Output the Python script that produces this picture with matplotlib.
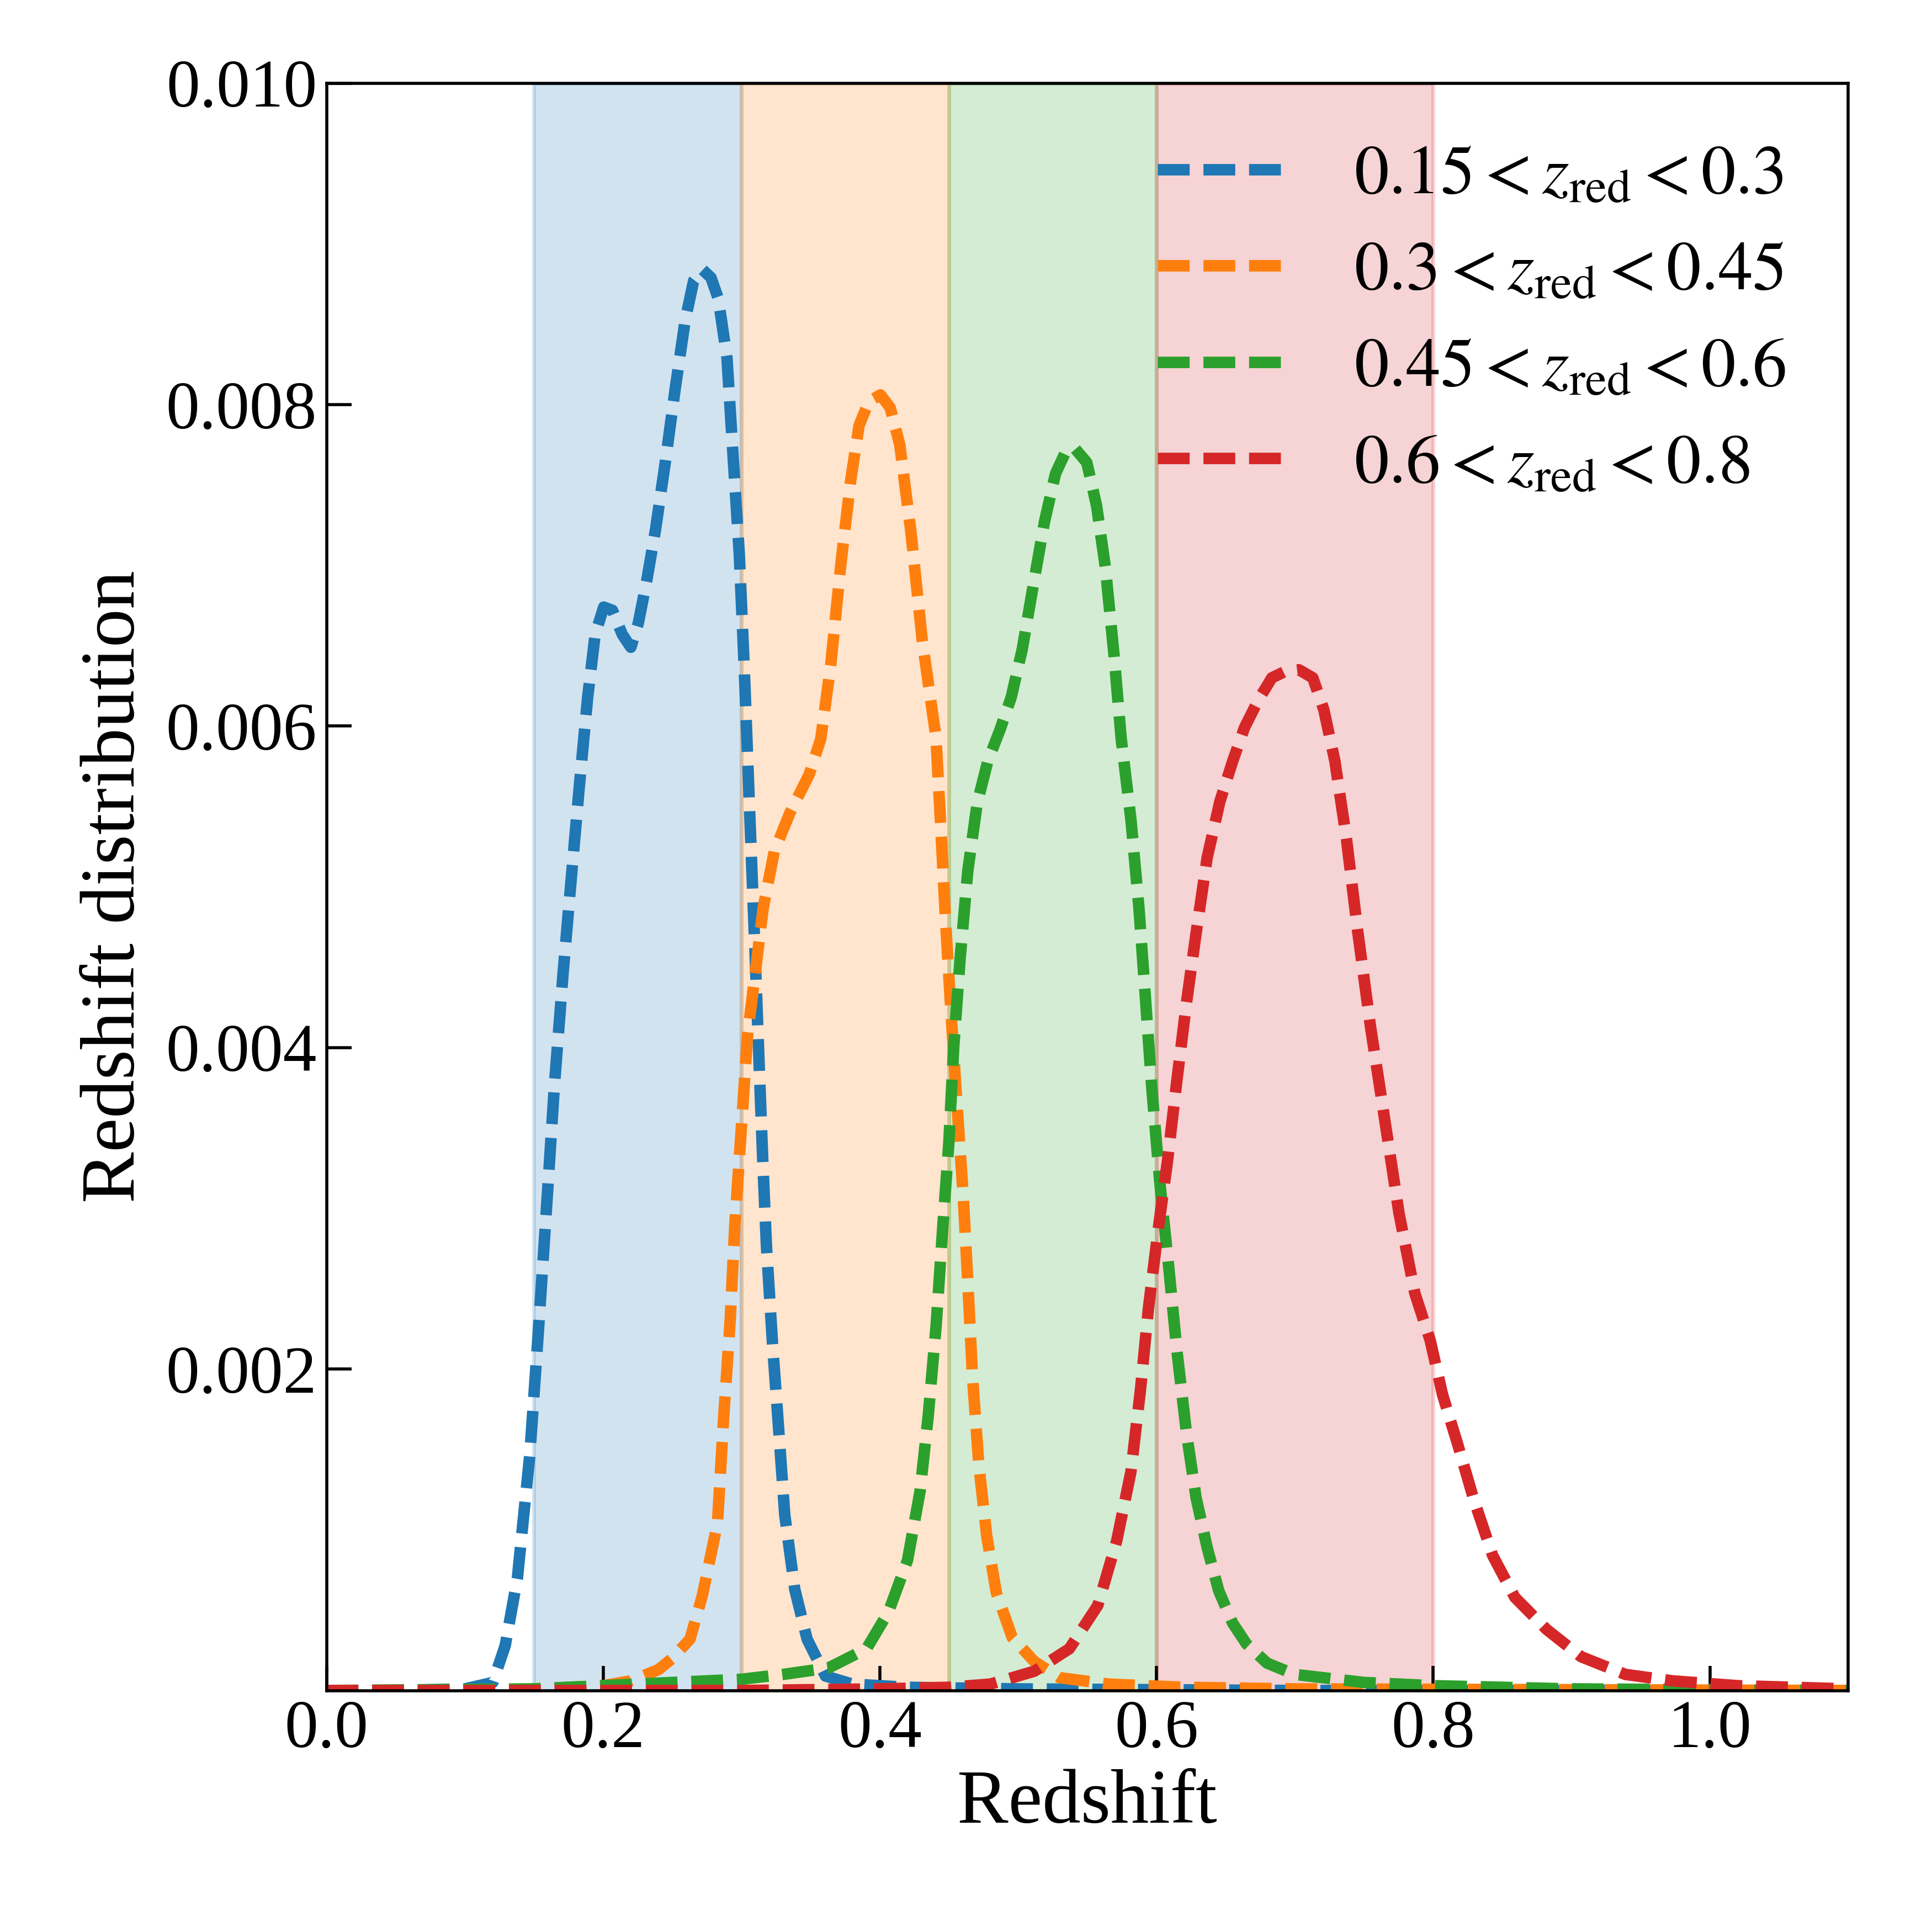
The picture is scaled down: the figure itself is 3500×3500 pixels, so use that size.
#!/usr/bin/env python3
# -*- coding: utf-8 -*-

import matplotlib
matplotlib.use('Agg')
import matplotlib.pyplot as plt

plt.rcParams['font.family'] = 'serif'
plt.rcParams['font.serif'] = ['Liberation Serif', 'DejaVu Serif']
plt.rcParams['mathtext.fontset'] = 'stix'

# redshift bins (band edges) and legend labels
bins = [(0.15, 0.3), (0.3, 0.45), (0.45, 0.6), (0.6, 0.8)]
labels = [r'$0.15 < z_{\rm red} < 0.3$',
          r'$0.3 < z_{\rm red} < 0.45$',
          r'$0.45 < z_{\rm red} < 0.6$',
          r'$0.6 < z_{\rm red} < 0.8$']
colors = ['C0', 'C1', 'C2', 'C3']

# n(z)
z_blue = [0.0, 0.05, 0.10, 0.1202, 0.1292, 0.138, 0.147, 0.1532, 0.1585, 0.1648,
          0.171, 0.1764, 0.1826, 0.1888, 0.1942, 0.2004, 0.2067, 0.2138, 0.22,
          0.2254, 0.2316, 0.2378, 0.2449, 0.2521, 0.2592, 0.2654, 0.2717, 0.2779,
          0.2832, 0.2895, 0.2939, 0.2984, 0.3019, 0.3046, 0.3073, 0.31, 0.3126,
          0.3153, 0.318, 0.3224, 0.3269, 0.3313, 0.3385, 0.3474, 0.3607, 0.38,
          0.42, 0.5, 0.7, 1.1]
n_blue = [0.0, 0.0, 0.00001, 0.00005, 0.00028, 0.0007, 0.00147, 0.00224, 0.00293,
          0.00377, 0.00446, 0.005, 0.00561, 0.00618, 0.00657, 0.00674, 0.00672,
          0.00657, 0.00649, 0.00664, 0.00691, 0.00722, 0.00764, 0.0081, 0.00852,
          0.00877, 0.00884, 0.00879, 0.00866, 0.00829, 0.00768, 0.00707, 0.00638,
          0.00576, 0.00515, 0.00454, 0.00393, 0.00331, 0.00277, 0.00216, 0.00162,
          0.00109, 0.00063, 0.00032, 0.00009, 0.00004, 0.00002, 0.00001, 0.0, 0.0]

z_orange = [0.0, 0.1, 0.15, 0.2, 0.22, 0.24, 0.25, 0.2628, 0.2717, 0.2826, 0.2872,
            0.2918, 0.2952, 0.2998, 0.3044, 0.31, 0.3157, 0.3237, 0.335, 0.349,
            0.3573, 0.3645, 0.3716, 0.3788, 0.385, 0.3921, 0.4005, 0.4075, 0.4144,
            0.4223, 0.4307, 0.4406, 0.444, 0.4475, 0.451, 0.4555, 0.4602, 0.4636,
            0.467, 0.4716, 0.4773, 0.4842, 0.4957, 0.5117, 0.53, 0.565, 0.62,
            0.7, 1.1]
n_orange = [0.0, 0.0, 0.00001, 0.00003, 0.00006, 0.00013, 0.0002, 0.00032, 0.00059,
            0.00104, 0.00171, 0.0023, 0.0029, 0.00349, 0.00408, 0.00447, 0.00487,
            0.00522, 0.00546, 0.0057, 0.00592, 0.00638, 0.00699, 0.00752, 0.00787,
            0.00802, 0.00806, 0.00798, 0.00775, 0.00722, 0.00653, 0.00593, 0.00538,
            0.00479, 0.00428, 0.00368, 0.00309, 0.00254, 0.00195, 0.0014, 0.00096,
            0.00061, 0.00033, 0.00018, 0.00008, 0.00004, 0.00002, 0.00001, 0.0]

z_green = [0.0, 0.15, 0.2, 0.25, 0.3, 0.33, 0.3628, 0.3904, 0.4063, 0.42, 0.4291,
           0.435, 0.4407, 0.4453, 0.4499, 0.4534, 0.458, 0.4636, 0.4704, 0.478,
           0.487, 0.495, 0.503, 0.511, 0.519, 0.527, 0.5345, 0.5407, 0.5496,
           0.5567, 0.563, 0.5692, 0.5745, 0.5815, 0.5873, 0.5919, 0.5965, 0.6023,
           0.609, 0.6148, 0.6217, 0.6286, 0.6366, 0.645, 0.655, 0.665, 0.68, 0.70,
           0.75, 0.80, 0.9, 1.1]
n_green = [0.0, 0.00001, 0.00003, 0.00005, 0.00007, 0.0001, 0.00014, 0.00026,
           0.00049, 0.00081, 0.00124, 0.00171, 0.00227, 0.00286, 0.00341, 0.004,
           0.00455, 0.0051, 0.00552, 0.00578, 0.00598, 0.00618, 0.00648, 0.00688,
           0.00727, 0.00757, 0.00771, 0.00773, 0.00764, 0.00737, 0.00699, 0.00645,
           0.00592, 0.00542, 0.00487, 0.00432, 0.00376, 0.00317, 0.00262, 0.00211,
           0.0016, 0.0012, 0.00089, 0.00062, 0.00042, 0.00029, 0.00017, 0.0001,
           0.00005, 0.00003, 0.00001, 0.0]

z_red = [0.0, 0.3, 0.4, 0.45, 0.48, 0.5117, 0.537, 0.5576, 0.5712, 0.5815, 0.5884,
         0.5942, 0.6011, 0.6079, 0.6148, 0.6217, 0.6286, 0.6366, 0.6458, 0.655,
         0.6636, 0.6735, 0.6834, 0.693, 0.703, 0.713, 0.721, 0.729, 0.7373, 0.7455,
         0.7547, 0.765, 0.7753, 0.7868, 0.7978, 0.8068, 0.8178, 0.8293, 0.843,
         0.859, 0.882, 0.907, 0.939, 0.973, 1.02, 1.1]
n_red = [0.0, 0.0, 0.00001, 0.00002, 0.00004, 0.00012, 0.00026, 0.00053, 0.00093,
         0.00136, 0.00187, 0.00238, 0.00286, 0.00329, 0.0038, 0.00428, 0.00471,
         0.00518, 0.00553, 0.00578, 0.00599, 0.00616, 0.0063, 0.00634, 0.00635,
         0.0063, 0.0061, 0.00578, 0.0053, 0.00472, 0.00413, 0.00355, 0.00297,
         0.00247, 0.00218, 0.00184, 0.00153, 0.00119, 0.00084, 0.00058, 0.00038,
         0.00021, 0.0001, 0.00006, 0.00003, 0.00001]

curves = [(z_blue, n_blue), (z_orange, n_orange), (z_green, n_green), (z_red, n_red)]

xticks = [0.0, 0.2, 0.4, 0.6, 0.8, 1.0]
yticks = [0.002, 0.004, 0.006, 0.008, 0.010]

LW = 3.0


fig = plt.figure(figsize=(7, 7), dpi=500)
ax = fig.add_axes([0.169, 0.125, 0.7876, 0.832])

for (lo, hi), c in zip(bins, colors):
    ax.axvspan(lo, hi, color=c, alpha=0.2, zorder=0)

for (z, n), c, lab in zip(curves, colors, labels):
    ax.plot(z, n, ls='--', lw=LW, color=c, label=lab,
            dashes=(8.3 / LW, 3.6 / LW))

ax.set_xlim(0, 1.1)
ax.set_ylim(0, 0.01)
ax.set_xticks(xticks)
ax.set_yticks(yticks)
ax.set_xticklabels(['%.1f' % t for t in xticks])
ax.set_yticklabels(['%.3f' % t for t in yticks])
ax.tick_params(direction='in', length=6.5, width=0.8, labelsize=17.5,
               top=False, right=False, pad=2.5)

ax.set_xlabel('Redshift', fontsize=20, labelpad=2)
ax.set_ylabel('Redshift distribution', fontsize=20, labelpad=4)

ax.legend(loc='upper right', frameon=False, fontsize=18, handlelength=1.87,
          handletextpad=0.98, labelspacing=0.48, borderaxespad=0.5)

fig.savefig('out.png', dpi=500)
